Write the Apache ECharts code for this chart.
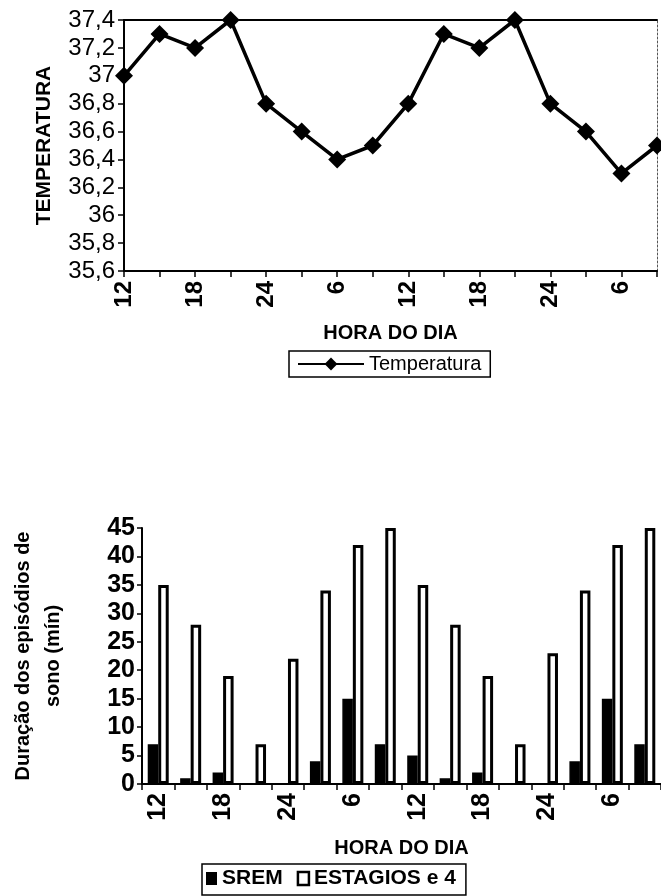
<!DOCTYPE html>
<html>
<head>
<meta charset="utf-8">
<script src="https://cdn.jsdelivr.net/npm/echarts@6/dist/echarts.min.js"></script>
<style>
html,body{margin:0;padding:0;background:#fff;}
#c{width:661px;height:896px;}
</style>
</head>
<body>
<div id="c"></div>
<script>
// Categories (hour of day); only every other label is shown
const hours = ['12','15','18','21','24','3','6','9','12','15','18','21','24','3','6','9'];
// Top chart: temperature
const temperatura = [37, 37.3, 37.2, 37.4, 36.8, 36.6, 36.4, 36.5, 36.8, 37.3, 37.2, 37.4, 36.8, 36.6, 36.3, 36.5];
// Bottom chart: sleep episode durations (min)
const srem = [7, 1, 2, 0, 0, 4, 15, 7, 5, 1, 2, 0, 0, 4, 15, 7];
const estagios = [35, 28, 19, 7, 22, 34, 42, 45, 35, 28, 19, 7, 23, 34, 42, 45];
// Axis settings
const tempMin = 35.6, tempMax = 37.4, tempStep = 0.2;
const durMin = 0, durMax = 45, durStep = 5;

const FONT = '"Liberation Sans", Arial, sans-serif';
const chart = echarts.init(document.getElementById('c'), null, {renderer: 'canvas'});

chart.setOption({
  backgroundColor: '#fff',
  animation: false,
  textStyle: {fontFamily: FONT, color: '#000'},
  grid: [
    {left: 124, top: 20, width: 533, height: 251, containLabel: false},
    {left: 135, top: 528, width: 535.5, height: 256, containLabel: false}
  ],
  legend: [
    {
      data: ['Temperatura'],
      left: 289, top: 351,
      orient: 'horizontal',
      itemWidth: 66, itemHeight: 16,
      padding: [3, 9, 3, 8],
      borderColor: '#000', borderWidth: 1.5,
      textStyle: {fontFamily: FONT, fontSize: 20, color: '#000'}
    },
    {
      data: [
        {name: 'SREM', icon: 'rect', itemStyle: {color: '#000', borderColor: '#000', borderWidth: 0}},
        {name: 'ESTAGIOS e 4', icon: 'rect', itemStyle: {color: '#fff', borderColor: '#000', borderWidth: 2.5}}
      ],
      left: 202, top: 864,
      itemWidth: 11, itemHeight: 13,
      itemGap: 14,
      padding: [4, 10, 6, 4],
      borderColor: '#000', borderWidth: 1.5,
      textStyle: {fontFamily: FONT, fontSize: 21, fontWeight: 'bold', color: '#000'}
    }
  ],
  xAxis: [
    {
      type: 'category', gridIndex: 0, data: hours, boundaryGap: false,
      axisLine: {lineStyle: {color: '#000', width: 2}},
      axisTick: {show: true, interval: 0, length: 6, lineStyle: {color: '#000', width: 1.5}},
      axisLabel: {interval: 1, rotate: 90, margin: 10, fontSize: 24, fontWeight: 'bold', color: '#000', fontFamily: FONT},
      name: 'HORA DO DIA', nameLocation: 'middle', nameGap: 52,
      nameTextStyle: {fontSize: 20, fontWeight: 'bold', color: '#000', fontFamily: FONT}
    },
    {
      type: 'category', gridIndex: 0, data: hours, boundaryGap: false, position: 'top',
      axisLine: {lineStyle: {color: '#000', width: 2}},
      axisTick: {show: false}, axisLabel: {show: false}
    },
    {
      type: 'category', gridIndex: 1, data: hours,
      axisLine: {lineStyle: {color: '#000', width: 2}},
      axisTick: {show: true, interval: 0, length: 6, lineStyle: {color: '#000', width: 1.5}},
      axisLabel: {interval: 1, rotate: 90, margin: 9, fontSize: 25, fontWeight: 'bold', color: '#000', fontFamily: FONT},
      name: 'HORA DO DIA', nameLocation: 'middle', nameGap: 54,
      nameTextStyle: {fontSize: 20, fontWeight: 'bold', color: '#000', fontFamily: FONT}
    }
  ],
  yAxis: [
    {
      type: 'value', gridIndex: 0, min: tempMin, max: tempMax, interval: tempStep,
      axisLine: {show: true, lineStyle: {color: '#000', width: 2}},
      axisTick: {show: true, length: 6, lineStyle: {color: '#000', width: 1.5}},
      splitLine: {show: false},
      axisLabel: {
        fontSize: 24, color: '#000', margin: 9, fontFamily: FONT,
        formatter: v => String(Math.round(v * 10) / 10).replace('.', ',')
      },
      name: 'TEMPERATURA', nameLocation: 'middle', nameGap: 69, nameRotate: 90,
      nameTextStyle: {fontSize: 21, fontWeight: 'bold', color: '#000', fontFamily: FONT}
    },
    {
      type: 'value', gridIndex: 0, min: tempMin, max: tempMax, interval: tempStep, position: 'right',
      axisLine: {show: true, lineStyle: {color: '#555', width: 1, type: [2, 2]}},
      axisTick: {show: false}, axisLabel: {show: false}, splitLine: {show: false}
    },
    {
      type: 'value', gridIndex: 1, min: durMin, max: durMax, interval: durStep,
      axisLine: {show: true, lineStyle: {color: '#000', width: 2}},
      axisTick: {show: true, length: 5, lineStyle: {color: '#000', width: 1.5}},
      splitLine: {show: false},
      axisLabel: {fontSize: 25, fontWeight: 'bold', color: '#000', margin: 7, fontFamily: FONT},
      name: 'Duração dos episódios de\nsono (mín)', nameLocation: 'middle', nameGap: 74, nameRotate: 90,
      nameTextStyle: {fontSize: 20, fontWeight: 'bold', color: '#000', fontFamily: FONT, lineHeight: 30, align: 'center'}
    }
  ],
  series: [
    {
      name: 'Temperatura', type: 'line', xAxisIndex: 0, yAxisIndex: 0,
      data: temperatura,
      symbol: 'diamond', symbolSize: 18,
      lineStyle: {color: '#000', width: 3.5},
      itemStyle: {color: '#000'}
    },
    {
      name: 'SREM', type: 'bar', xAxisIndex: 2, yAxisIndex: 2,
      data: srem, barWidth: 10.5, barGap: '0%',
      itemStyle: {color: '#000', borderColor: '#000', borderWidth: 1.5}
    },
    {
      name: 'ESTAGIOS e 4', type: 'bar', xAxisIndex: 2, yAxisIndex: 2,
      data: estagios, barWidth: 10.5, barGap: '0%',
      itemStyle: {color: '#fff', borderColor: '#000', borderWidth: 3}
    }
  ]
});
</script>
</body>
</html>
